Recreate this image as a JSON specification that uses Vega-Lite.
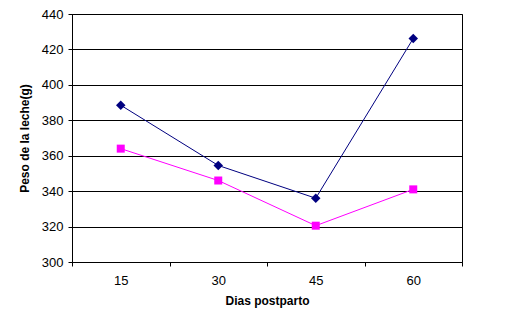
{
  "$schema": "https://vega.github.io/schema/vega-lite/v6.json",
  "autosize": "none",
  "width": 390,
  "height": 248,
  "padding": {"left": 72, "top": 14, "right": 49, "bottom": 67},
  "background": "white",
  "config": {
    "font": "Liberation Sans",
    "view": {"stroke": "black", "strokeWidth": 1},
    "axis": {
      "labelFont": "Liberation Sans",
      "titleFont": "Liberation Sans",
      "labelColor": "black",
      "titleColor": "black",
      "domainColor": "black",
      "tickColor": "black",
      "gridColor": "black",
      "gridOpacity": 1,
      "labelFontSize": 13,
      "titleFontSize": 12,
      "titleFontWeight": "bold"
    }
  },
  "data": {
    "values": [
      {"dia": "15", "serie": "A", "peso": 388.5},
      {"dia": "30", "serie": "A", "peso": 354.5},
      {"dia": "45", "serie": "A", "peso": 336},
      {"dia": "60", "serie": "A", "peso": 426.2},
      {"dia": "15", "serie": "B", "peso": 364},
      {"dia": "30", "serie": "B", "peso": 346},
      {"dia": "45", "serie": "B", "peso": 320.5},
      {"dia": "60", "serie": "B", "peso": 341}
    ]
  },
  "encoding": {
    "x": {
      "field": "dia",
      "type": "ordinal",
      "sort": ["15", "30", "45", "60"],
      "scale": {"type": "band", "paddingInner": 0, "paddingOuter": 0},
      "axis": {
        "title": "Dias postparto",
        "labelAngle": 0,
        "tickBand": "extent",
        "tickSize": 4,
        "labelPadding": 8,
        "titlePadding": 8,
        "grid": false
      }
    },
    "y": {
      "field": "peso",
      "type": "quantitative",
      "scale": {"domain": [300, 440], "zero": false, "nice": false},
      "axis": {
        "title": "Peso de la leche(g)",
        "values": [300, 320, 340, 360, 380, 400, 420, 440],
        "tickSize": 4,
        "labelPadding": 5,
        "titlePadding": 10,
        "grid": true
      }
    },
    "color": {
      "field": "serie",
      "type": "nominal",
      "scale": {"domain": ["A", "B"], "range": ["#000080", "#FF00FF"]},
      "legend": null
    }
  },
  "layer": [
    {"mark": {"type": "line", "strokeWidth": 1}},
    {
      "mark": {"type": "point", "filled": true, "opacity": 1},
      "encoding": {
        "shape": {
          "field": "serie",
          "type": "nominal",
          "scale": {"domain": ["A", "B"], "range": ["diamond", "square"]},
          "legend": null
        },
        "size": {
          "field": "serie",
          "type": "nominal",
          "scale": {"domain": ["A", "B"], "range": [90, 64]},
          "legend": null
        }
      }
    }
  ]
}
